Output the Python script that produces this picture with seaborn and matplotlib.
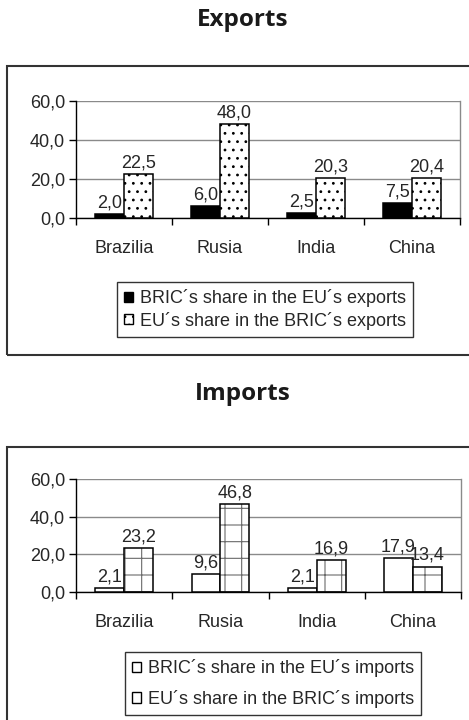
import matplotlib
matplotlib.use("Agg")
import matplotlib.pyplot as plt
from matplotlib.patches import Rectangle, Patch
from matplotlib.ticker import FuncFormatter
import pandas as pd
import seaborn as sns

# data
countries = ["Brazilia", "Rusia", "India", "China"]
exp_bric_in_eu = [2.0, 6.0, 2.5, 7.5]
exp_eu_in_bric = [22.5, 48.0, 20.3, 20.4]
imp_bric_in_eu = [2.1, 9.6, 2.1, 17.9]
imp_eu_in_bric = [23.2, 46.8, 16.9, 13.4]
exp_labels = ["BRIC´s share in the EU´s exports", "EU´s share in the BRIC´s exports"]
imp_labels = ["BRIC´s share in the EU´s imports", "EU´s share in the BRIC´s imports"]
y_ticks = [0, 20, 40, 60]

sns.set_theme(style="white")
plt.rcParams["font.family"] = ["Liberation Sans", "DejaVu Sans"]
plt.rcParams["hatch.linewidth"] = 0.8

W, H = 469, 720
FS = 13
fig = plt.figure(figsize=(W / 100, H / 100), dpi=100)


def px(x, y):
    # pixel position (from top-left) -> figure fraction
    return x / W, 1 - y / H


def comma(v, _=None):
    return f"{v:.1f}".replace(".", ",")


def draw_panel(rect, first, second, labels, styles, leg_anchor, leg_spacing):
    ax = fig.add_axes(rect)
    df = pd.DataFrame({
        "country": countries * 2,
        "value": first + second,
        "series": [labels[0]] * 4 + [labels[1]] * 4,
    })
    sns.barplot(data=df, x="country", y="value", hue="series", width=0.6,
                palette=["black", "white"], legend=False, ax=ax, zorder=3)

    for cont, st, vals in zip(ax.containers, styles, [first, second]):
        for bar in cont:
            bar.set_facecolor(st["fc"])
            if st.get("hatch"):
                bar.set_hatch(st["hatch"])
                bar.set_edgecolor(st["hc"])
                bar.set_linewidth(0)
                ax.add_patch(Rectangle(bar.get_xy(), bar.get_width(), bar.get_height(),
                                       fill=False, ec="black", lw=1.1, zorder=4))
            else:
                bar.set_edgecolor("black")
                bar.set_linewidth(1.1)
        ax.bar_label(cont, labels=[comma(v) for v in vals], padding=2, fontsize=FS, zorder=5)

    ax.set_ylim(0, 60)
    ax.set_xlim(-0.5, 3.5)
    ax.set_yticks(y_ticks)
    ax.yaxis.set_major_formatter(FuncFormatter(comma))
    ax.set_xlabel("")
    ax.set_ylabel("")
    ax.grid(axis="y", color="#8a8a8a", lw=1, zorder=0)
    ax.set_axisbelow(True)
    ax.spines["top"].set_visible(False)
    ax.spines["right"].set_color("#8a8a8a")
    ax.spines["left"].set_color("black")
    ax.spines["bottom"].set_color("black")
    for s in ["left", "bottom", "right"]:
        ax.spines[s].set_linewidth(1)
    ax.set_xticks([-0.5, 0.5, 1.5, 2.5, 3.5], minor=True)
    ax.tick_params(axis="x", which="major", length=0, pad=16, labelsize=FS)
    ax.tick_params(axis="x", which="minor", length=5, width=1, color="black", direction="out", bottom=True)
    ax.tick_params(axis="y", length=5, width=1, color="black", direction="out", left=True, pad=3, labelsize=FS)

    handles = []
    for st, lab in zip(styles, labels):
        handles.append(Patch(facecolor=st["fc"], edgecolor="black", hatch=st.get("hatch"), lw=1, label=lab))
    leg = fig.legend(handles=handles, loc="upper left", bbox_to_anchor=leg_anchor, fontsize=FS,
                     frameon=True, fancybox=False, framealpha=1, edgecolor="#333333",
                     handlelength=0.5, handleheight=0.5, handletextpad=0.35,
                     labelspacing=leg_spacing, borderpad=0.4, borderaxespad=0)
    leg.get_frame().set_linewidth(1)
    return ax


# top panel: exports
fig.add_artist(Rectangle(px(7, 355), 480 / W, (355 - 66) / H, transform=fig.transFigure,
                         fill=False, ec="#333333", lw=1.5))
x0, y0 = px(76, 218)
x1, y1 = px(460, 101)
draw_panel([x0, y0, x1 - x0, y1 - y0], exp_bric_in_eu, exp_eu_in_bric, exp_labels,
           [{"fc": "black"}, {"fc": "white", "hatch": "..", "hc": "black"}],
           px(117, 282), 0.25)
fig.text(*px(243, 26), "Exports", ha="center", va="baseline", fontsize=17.5,
         fontweight="bold", family="Open Sans", color="#1a1a1a")

# bottom panel: imports
fig.add_artist(Rectangle(px(7, 740), 480 / W, (740 - 447) / H, transform=fig.transFigure,
                         fill=False, ec="#333333", lw=1.5))
x0, y0 = px(76, 592)
x1, y1 = px(461, 479)
draw_panel([x0, y0, x1 - x0, y1 - y0], imp_bric_in_eu, imp_eu_in_bric, imp_labels,
           [{"fc": "white"}, {"fc": "white", "hatch": "+", "hc": "#6a6a6a"}],
           px(125, 652), 0.7)
fig.text(*px(243, 400), "Imports", ha="center", va="baseline", fontsize=17.5,
         fontweight="bold", family="Open Sans", color="#1a1a1a")

fig.savefig("out.png", dpi=100)
